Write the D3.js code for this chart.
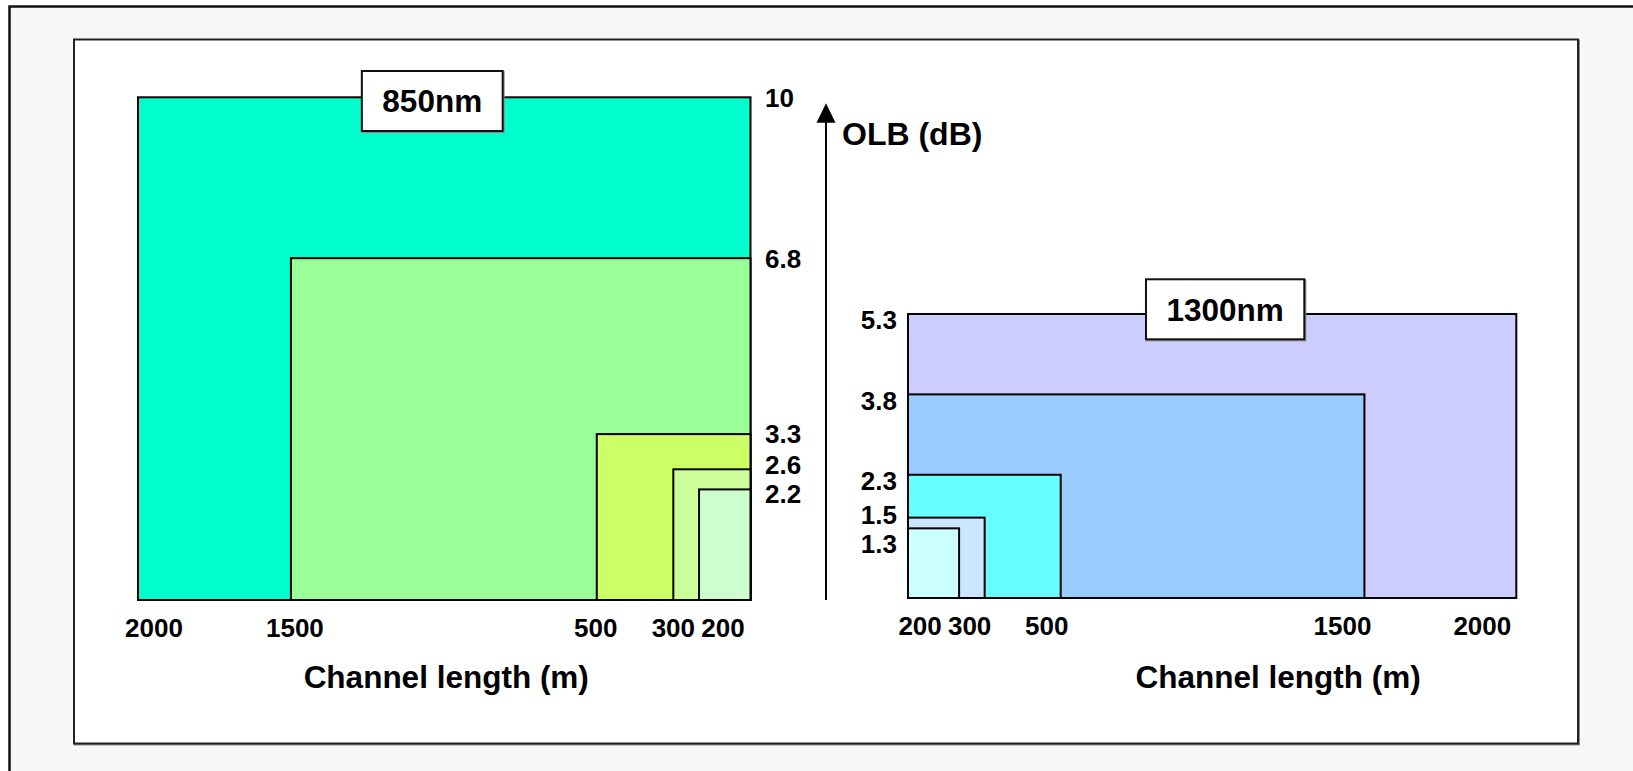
<!DOCTYPE html>
<html>
<head>
<meta charset="utf-8">
<script src="https://cdn.jsdelivr.net/npm/d3@7"></script>
<style>
  html, body { margin: 0; padding: 0; background: #fff; overflow: hidden; }
  svg { display: block; font-family: "Liberation Sans", Arial, Helvetica, sans-serif; font-weight: bold; }
</style>
</head>
<body>
<svg id="chart" width="1633" height="771"></svg>
<script>
// Optical loss budget (OLB) against channel length, 850 nm and 1300 nm windows

// ---- data ----
const lengthTicks = [2000, 1500, 500, 300, 200];
const lengths850  = [2000, 1500, 500, 300, 200];
const olb850      = [10, 6.8, 3.3, 2.6, 2.2];
const lengths1300 = [2000, 1500, 500, 300, 200];
const olb1300     = [5.3, 3.8, 2.3, 1.5, 1.3];
const titles      = ["850nm", "1300nm"];
const axisTitle   = "Channel length (m)";
const olbTitle    = "OLB (dB)";

// ---- styles ----
const fills850  = ["#00ffcc", "#99ff99", "#ccff66", "#ccff99", "#ccffcc"];
const fills1300 = ["#ccccff", "#99ccff", "#66ffff", "#cce6ff", "#ccffff"];

// Length axis: short runs (0-300 m) are drawn slightly compressed,
// the 500-2000 m stretch is linear.
const lengthBreaks = [0, 300, 500, 2000];
const lengthFrac   = [0, 0.126, 0.251, 1];

const W = 1633, H = 771;
const svg = d3.select("#chart");

// page background (runs off the right and bottom edges) and inner frame
svg.append("rect").attr("x", 9.5).attr("y", 6.5).attr("width", W + 60).attr("height", H + 60)
  .attr("fill", "#f7f7f7").attr("stroke", "#111").attr("stroke-width", 2.5);
svg.append("rect").attr("x", 75).attr("y", 40.5).attr("width", 1504).attr("height", 704)
  .attr("fill", "none").attr("stroke", "#8a8a8a").attr("stroke-width", 2);
svg.append("rect").attr("x", 74).attr("y", 39.5).attr("width", 1504).attr("height", 704)
  .attr("fill", "#fff").attr("stroke", "#222").attr("stroke-width", 2);

// push overlapping labels apart (positions sorted top to bottom)
function spread(ys, gap) {
  const p = ys.slice();
  for (let it = 0; it < 60; it++) {
    for (let i = 1; i < p.length; i++) {
      const d = p[i] - p[i - 1];
      if (d < gap) { const s = (gap - d) / 2; p[i - 1] -= s; p[i] += s; }
    }
  }
  return p;
}

function drawPanel(cfg) {
  const x = d3.scaleLinear()
    .domain(lengthBreaks)
    .range(lengthFrac.map(f => cfg.x0 + f * (cfg.x1 - cfg.x0)));
  const y = d3.scaleLinear()
    .domain([0, d3.max(cfg.olb)])
    .range([cfg.yBottom, cfg.yTop]);

  const g = svg.append("g");
  const rows = cfg.lengths.map((L, i) => ({ L, olb: cfg.olb[i], fill: cfg.fills[i] }));

  // nested loss-budget areas, largest first
  g.selectAll("rect.zone").data(rows).join("rect")
    .attr("class", "zone")
    .attr("x", d => Math.min(x(0), x(d.L)))
    .attr("width", d => Math.abs(x(d.L) - x(0)))
    .attr("y", d => y(d.olb))
    .attr("height", d => y(0) - y(d.olb))
    .attr("fill", d => d.fill)
    .attr("stroke", "#000")
    .attr("stroke-width", 2);

  // OLB value labels beside the shared edge
  const ys = spread(rows.map(d => y(d.olb)), 29);
  g.selectAll("text.olb").data(rows).join("text")
    .attr("class", "olb")
    .attr("x", x(0) + cfg.valueDx)
    .attr("y", (d, i) => ys[i] + cfg.valueDy)
    .attr("dy", "0.36em")
    .attr("text-anchor", cfg.valueAnchor)
    .attr("font-size", 26)
    .attr("fill", "#000")
    .text(d => d3.format("~g")(d.olb));

  // channel length tick labels
  g.selectAll("text.len").data(lengthTicks).join("text")
    .attr("class", "len")
    .attr("x", (d, i) => x(d) + cfg.tickDx[i])
    .attr("y", cfg.yBottom + 37)
    .attr("text-anchor", "middle")
    .attr("font-size", 26)
    .attr("fill", "#000")
    .text(d => d);

  // axis title
  const cx = (cfg.x0 + cfg.x1) / 2;
  g.append("text")
    .attr("x", cx + cfg.axisTitleDx)
    .attr("y", 688)
    .attr("text-anchor", "middle")
    .attr("font-size", 31.5)
    .attr("fill", "#000")
    .text(axisTitle);

  // wavelength badge on the top edge
  const by = y(d3.max(cfg.olb)) + cfg.badgeDy;
  const bx = cx + cfg.badgeDx;
  const badge = g.append("g");
  const shadow = badge.append("rect");
  const box = badge.append("rect");
  const t = badge.append("text")
    .attr("x", bx).attr("y", by).attr("dy", "0.36em")
    .attr("text-anchor", "middle")
    .attr("font-size", 31.5)
    .attr("fill", "#000")
    .text(cfg.title);
  const tw = t.node().getComputedTextLength();
  const bw = tw + 41, bh = 60;
  shadow.attr("x", bx - bw / 2 + 1).attr("y", by - bh / 2 + 1)
    .attr("width", bw).attr("height", bh)
    .attr("fill", "none").attr("stroke", "#8a8a8a").attr("stroke-width", 2);
  box.attr("x", bx - bw / 2).attr("y", by - bh / 2)
    .attr("width", bw).attr("height", bh)
    .attr("fill", "#fff").attr("stroke", "#111").attr("stroke-width", 2);
}

drawPanel({
  lengths: lengths850, olb: olb850, fills: fills850, title: titles[0],
  x0: 750.5, x1: 138, yBottom: 600, yTop: 97.3,
  valueDx: 14.5, valueDy: 0, valueAnchor: "start",
  tickDx: [16, 4, -1, 0, 24],
  axisTitleDx: 2, badgeDx: -12, badgeDy: 3.7
});

drawPanel({
  lengths: lengths1300, olb: olb1300, fills: fills1300, title: titles[1],
  x0: 908, x1: 1516.3, yBottom: 598, yTop: 314,
  valueDx: -11, valueDy: 6, valueAnchor: "end",
  tickDx: [-34, -22, -14, -15, -39],
  axisTitleDx: 66, badgeDx: 13, badgeDy: -4.7
});

// shared OLB axis with arrow
svg.append("line")
  .attr("x1", 826).attr("x2", 826).attr("y1", 600).attr("y2", 120)
  .attr("stroke", "#000").attr("stroke-width", 2);
svg.append("path")
  .attr("d", d3.line()([[826, 103.3], [816.5, 122.7], [835.5, 122.7]]) + "Z")
  .attr("fill", "#000");
svg.append("text")
  .attr("x", 842).attr("y", 144.5)
  .attr("font-size", 32)
  .attr("fill", "#000")
  .text(olbTitle);
</script>
</body>
</html>
